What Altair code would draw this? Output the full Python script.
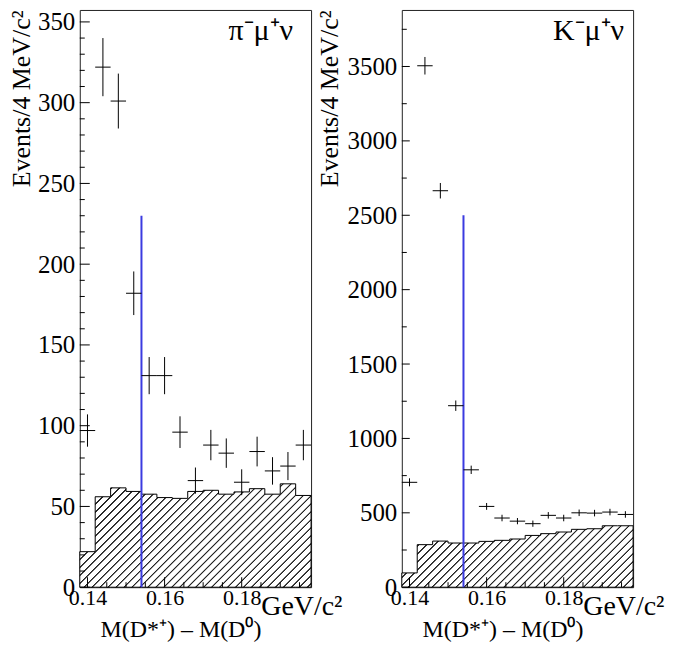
import altair as alt
import pandas as pd

# ---------------- data ----------------
bin_edges = [0.138, 0.142, 0.146, 0.150, 0.154, 0.158, 0.162, 0.166,
             0.170, 0.174, 0.178, 0.182, 0.186, 0.190, 0.194, 0.198]
centers = [0.140, 0.144, 0.148, 0.152, 0.156, 0.160, 0.164, 0.168,
           0.172, 0.176, 0.180, 0.184, 0.188, 0.192, 0.196]

pi_data = [97, 322, 301, 182, 131, 131, 96, 66, 88, 83, 65, 84, 72, 75, 88]
pi_err = [10, 18, 17, 13.5, 11.5, 11.5, 9.8, 8.1, 9.4, 9.1, 8.0, 9.2, 8.5, 8.7, 9.4]
pi_bkg = [22, 56, 61.5, 59.3, 57.6, 55.5, 55, 59.3, 60, 57.6, 59, 61, 57.6, 64, 56.8]

k_data = [705, 3505, 2665, 1220, 789, 543, 465, 444, 427, 483, 465, 500, 498, 505, 489]
k_err = [27, 59, 52, 35, 28, 23, 22, 21, 21, 22, 22, 22, 22, 22, 22]
k_bkg = [96, 286, 310, 297, 297, 308, 315, 324, 348, 360, 371, 389, 393, 413, 413]

cut_value = 0.154
pi_cut_top = 230
k_cut_top = 2500

x_major = [0.14, 0.16, 0.18]
x_minor = [0.145, 0.15, 0.155, 0.165, 0.17, 0.175, 0.185, 0.19, 0.195]

pi_y_major = [0, 50, 100, 150, 200, 250, 300, 350]
pi_y_minor = [v for v in range(10, 360, 10) if v % 50 != 0]
k_y_major = [0, 500, 1000, 1500, 2000, 2500, 3000, 3500]
k_y_minor = [250, 750, 1250, 1750, 2250, 2750, 3250, 3750]

x_title = "M(D*⁺) – M(D⁰)"
y_title = "Events/4 MeV/c²"
unit_text = "GeV/c²"

SERIF = "Liberation Serif"
W, H = 232, 579
XDOM = [0.138, 0.198]


def hatch(width, height, period=8.0, ink="#222222"):
    L = width + height
    s = L * width / (width * width + height * height)
    stops = [alt.GradientStop(offset=0, color="white")]
    c = period / 2.0
    while c + 1.3 < L:
        for off, col in ((c - 1.2, "white"), (c - 0.5, ink), (c + 0.5, ink), (c + 1.2, "white")):
            stops.append(alt.GradientStop(offset=round(max(0.0, off) / L, 6), color=col))
        c += period
    stops.append(alt.GradientStop(offset=1, color="white"))
    return alt.LinearGradient(gradient="linear", stops=stops,
                              x1=0, y1=0, x2=round(s, 6), y2=round(s * height / width, 6))


def panel(bkg, vals, errs, ymax, y_major, y_minor, maj_len, label, label_x,
          title_x, cut_top, fmt):
    xs = alt.Scale(domain=XDOM, nice=False, zero=False)
    ys = alt.Scale(domain=[0, ymax], nice=False, zero=False)
    xax = alt.Axis(values=x_major, format=".2f", ticks=False, tickSize=0,
                   labelPadding=0, domain=False, grid=False, title=x_title,
                   titleX=101, titleY=49, titleAlign="center",
                   titleBaseline="alphabetic", titleFontSize=24,
                   labelFontSize=22)
    yax = alt.Axis(values=y_major, format=fmt, ticks=False, tickSize=0,
                   labelPadding=5, domain=False, grid=False, title=y_title,
                   titleAngle=270, titleAlign="right",
                   titleBaseline="alphabetic", titleX=title_x, titleY=0,
                   titleFontSize=26, labelFontSize=25)

    def X(f):
        return alt.X(f, type="quantitative", scale=xs, axis=xax)

    def Y(f):
        return alt.Y(f, type="quantitative", scale=ys, axis=yax)

    area_df = pd.DataFrame({"x": bin_edges, "y": bkg + [bkg[-1]]})
    hpx = max(bkg) / ymax * H
    area = alt.Chart(area_df).mark_area(
        interpolate="step-after", fill=hatch(W, hpx), stroke="black",
        strokeWidth=1).encode(x=X("x"), y=Y("y"))

    pts = pd.DataFrame({
        "x": centers, "xlo": bin_edges[:-1], "xhi": bin_edges[1:],
        "y": vals,
        "ylo": [v - e for v, e in zip(vals, errs)],
        "yhi": [v + e for v, e in zip(vals, errs)],
    })
    hbar = alt.Chart(pts).mark_rule(color="black", strokeWidth=1).encode(
        x=X("xlo"), x2="xhi", y=Y("y"))
    vbar = alt.Chart(pts).mark_rule(color="black", strokeWidth=1).encode(
        x=X("x"), y=Y("ylo"), y2="yhi")

    cut_df = pd.DataFrame({"x": [cut_value], "y0": [0], "y1": [cut_top]})
    cut = alt.Chart(cut_df).mark_rule(color="#3b3be0", strokeWidth=2).encode(
        x=X("x"), y=Y("y0"), y2="y1")

    ymaj = alt.Chart(pd.DataFrame({"y": y_major})).mark_rule(
        color="black", strokeWidth=1).encode(
        y=Y("y"), x=alt.value(0), x2=alt.value(maj_len))
    ymin = alt.Chart(pd.DataFrame({"y": y_minor})).mark_rule(
        color="black", strokeWidth=1).encode(
        y=Y("y"), x=alt.value(0), x2=alt.value(5))
    xmaj = alt.Chart(pd.DataFrame({"x": x_major})).mark_rule(
        color="black", strokeWidth=1).encode(
        x=X("x"), y=alt.value(H), y2=alt.value(H - 10))
    xmin = alt.Chart(pd.DataFrame({"x": x_minor})).mark_rule(
        color="black", strokeWidth=1).encode(
        x=X("x"), y=alt.value(H), y2=alt.value(H - 5))

    lab = alt.Chart(pd.DataFrame({"t": [label]})).mark_text(
        align="right", baseline="alphabetic", fontSize=30, font=SERIF,
        color="black").encode(x=alt.value(label_x), y=alt.value(30), text="t:N")
    unit = alt.Chart(pd.DataFrame({"t": [unit_text]})).mark_text(
        align="left", baseline="alphabetic", fontSize=28, font=SERIF,
        color="black").encode(x=alt.value(182), y=alt.value(607), text="t:N")

    return alt.layer(area, cut, hbar, vbar, ymaj, ymin, xmaj, xmin, lab, unit
                     ).properties(width=W, height=H)


left = panel(pi_bkg, pi_data, pi_err, 357.4, pi_y_major, pi_y_minor, 10,
             "π⁻μ⁺ν", 214, -50, pi_cut_top, "d")
right = panel(k_bkg, k_data, k_err, 3880, k_y_major, k_y_minor, 8,
              "K⁻μ⁺ν", 223, -64, k_cut_top, "d")

chart = alt.hconcat(left, right, spacing=91, bounds="flush").properties(
    padding={"left": 0, "top": 0, "right": 0, "bottom": 0}
).configure_view(stroke="#222222", strokeWidth=1).configure_axis(
    labelFont=SERIF, titleFont=SERIF, labelColor="black", titleColor="black",
    titleFontWeight="normal"
).configure_text(font=SERIF)

chart.save("out.html", embed_options={"renderer": "svg", "actions": False})
